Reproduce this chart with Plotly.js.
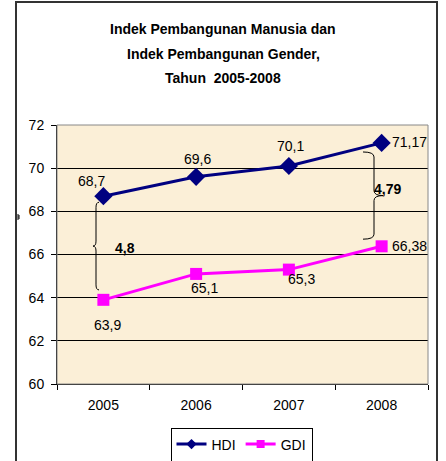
<!DOCTYPE html>
<html>
<head>
<meta charset="utf-8">
<script src="https://cdn.plot.ly/plotly-3.0.1.min.js"></script>
<style>html,body{margin:0;padding:0;background:#fff;}#chart{width:446px;height:461px;}</style>
</head>
<body>
<div id="chart"></div>
<script>
// ---- data ----
const years = ['2005', '2006', '2007', '2008'];
const hdi = [68.7, 69.6, 70.1, 71.17];
const gdi = [63.9, 65.1, 65.3, 66.38];
const gapLabels = ['4,8', '4,79'];
const titleLines = ['Indek Pembangunan Manusia dan', 'Indek Pembangunan Gender,', 'Tahun  2005-2008'];
const yTicks = [60, 62, 64, 66, 68, 70, 72];

// ---- layout geometry ----
const W = 446, H = 461;
const M = {l: 57, r: 18, t: 125, b: 77, autoexpand: false};
const PW = W - M.l - M.r, PH = H - M.t - M.b;
const YMIN = 60, YMAX = 72;
const px2paperX = px => (px - M.l) / PW;
const px2paperY = py => (H - M.b - py) / PH;
const pxPerUnit = PH / (YMAX - YMIN);
const fmt = v => String(v).replace('.', ',');
const FONT = 'Liberation Sans, Arial, sans-serif';

function brace(xb, dir, w, e, yTop, yBot) {
  const r = 5 / pxPerUnit;
  const ym = (yTop + yBot) / 2;
  const xt = xb + dir * w, xe = xb - dir * e;
  return `M ${xe},${yTop} Q ${xb},${yTop} ${xb},${yTop - r} L ${xb},${ym + r} Q ${xb},${ym} ${xt},${ym} ` +
         `Q ${xb},${ym} ${xb},${ym - r} L ${xb},${yBot + r} Q ${xb},${yBot} ${xe},${yBot}`;
}
const u = px => px / PW;

const traces = [
  {x: years, y: hdi, name: 'HDI', type: 'scatter', mode: 'lines+markers', showlegend: false,
   line: {color: '#000080', width: 3}, marker: {symbol: 'diamond', size: 14, color: '#000080'}},
  {x: years, y: gdi, name: 'GDI', type: 'scatter', mode: 'lines+markers', showlegend: false,
   line: {color: '#ff00ff', width: 3}, marker: {symbol: 'square', size: 12, color: '#ff00ff'}},
  {x: [null], y: [null], name: 'HDI', type: 'scatter', mode: 'lines+markers',
   line: {color: '#000080', width: 3}, marker: {symbol: 'diamond', size: 8, color: '#000080'}},
  {x: [null], y: [null], name: 'GDI', type: 'scatter', mode: 'lines+markers',
   line: {color: '#ff00ff', width: 3}, marker: {symbol: 'square', size: 8, color: '#ff00ff'}}
];

const annotations = [];
titleLines.forEach((t, i) => {
  annotations.push({xref: 'paper', yref: 'paper', x: px2paperX(223), y: px2paperY([29, 54, 78][i]),
    text: '<b>' + t + '</b>', showarrow: false, xanchor: 'center', yanchor: 'middle',
    font: {family: FONT, size: 14, color: '#000'}});
});
const hdiOff = [[-12, 15], [1, 18], [2, 20], [28, 1]];
const gdiOff = [[4, -25], [8, -14], [13, -9], [28, 0]];
years.forEach((yr, i) => {
  annotations.push({x: i, y: hdi[i], text: fmt(hdi[i]), showarrow: false,
    xshift: hdiOff[i][0], yshift: hdiOff[i][1], font: {family: FONT, size: 14, color: '#000'}});
  annotations.push({x: i, y: gdi[i], text: fmt(gdi[i]), showarrow: false,
    xshift: gdiOff[i][0], yshift: gdiOff[i][1], font: {family: FONT, size: 14, color: '#000'}});
});
annotations.push({xref: 'paper', yref: 'y', x: px2paperX(113), y: (hdi[0] + gdi[0]) / 2, text: '<b>' + gapLabels[0] + '</b>',
  showarrow: false, font: {family: FONT, size: 14, color: '#000'}});
annotations.push({xref: 'paper', yref: 'y', x: px2paperX(403), y: (hdi[3] + gdi[3]) / 2 + 0.25, text: '<b>' + gapLabels[1] + '</b>',
  showarrow: false, font: {family: FONT, size: 14, color: '#000'}});

const shapes = [
  {type: 'rect', xref: 'paper', yref: 'paper', x0: px2paperX(16), x1: px2paperX(437), y0: px2paperY(470), y1: px2paperY(2),
   line: {color: '#333', width: 2}, layer: 'below'},
  {type: 'path', xref: 'paper', yref: 'paper',
   path: `M ${px2paperX(17)},${px2paperY(215)} L ${px2paperX(19)},${px2paperY(215)} L ${px2paperX(19)},${px2paperY(219)} L ${px2paperX(17)},${px2paperY(219)} M ${px2paperX(17)},${px2paperY(217)} L ${px2paperX(19)},${px2paperY(217)}`,
   line: {color: '#000', width: 1}},
  {type: 'rect', xref: 'paper', yref: 'paper', x0: 0, x1: 1, y0: 0, y1: 1, line: {color: '#888', width: 1}},
  {type: 'path', xref: 'paper', yref: 'y', path: brace(px2paperX(96), -1, u(3), u(3), hdi[0] - 0.28, gdi[0] + 0.46),
   line: {color: '#000', width: 1}},
  {type: 'path', xref: 'paper', yref: 'y', path: brace(px2paperX(374), 1, u(9), u(11), hdi[3] - 0.42, gdi[3] + 0.33),
   line: {color: '#000', width: 1}}
];

const layout = {
  width: W, height: H, margin: M,
  paper_bgcolor: '#ffffff', plot_bgcolor: '#fbefd7',
  font: {family: FONT, size: 14, color: '#000'},
  showlegend: true,
  legend: {orientation: 'h', x: px2paperX(241.5), y: px2paperY(444.5), xanchor: 'center', yanchor: 'middle',
    bgcolor: '#fff', bordercolor: '#000', borderwidth: 1, font: {family: FONT, size: 14},
    itemwidth: 30, tracegroupgap: 0},
  xaxis: {type: 'category', range: [-0.5, 3.5], tickson: 'boundaries', ticks: 'outside', ticklen: 5,
    tickcolor: '#000', showline: true, linecolor: '#000', linewidth: 1, showgrid: false,
    ticklabelstandoff: 8, tickfont: {family: FONT, size: 14}, fixedrange: true},
  yaxis: {range: [YMIN, YMAX], tickvals: yTicks, ticks: 'outside', ticklen: 5, tickcolor: '#000',
    showline: true, linecolor: '#000', linewidth: 1, showgrid: true, gridcolor: '#000', gridwidth: 1,
    zeroline: false, ticklabelstandoff: 4, tickfont: {family: FONT, size: 14}, fixedrange: true},
  annotations: annotations, shapes: shapes
};

Plotly.newPlot('chart', traces, layout, {displayModeBar: false, staticPlot: true});
</script>
</body>
</html>
